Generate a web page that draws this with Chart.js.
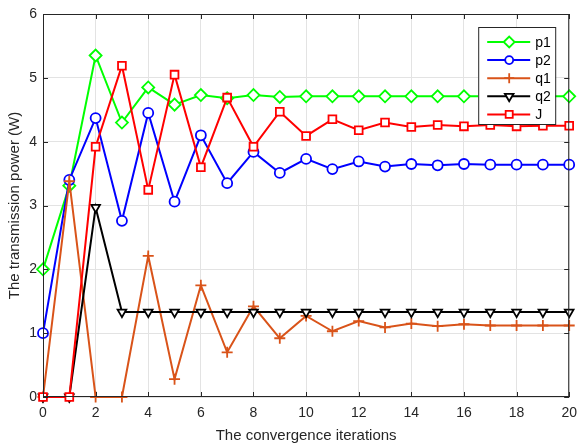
<!DOCTYPE html>
<html>
<head>
<meta charset="utf-8">
<script src="https://cdn.jsdelivr.net/npm/chart.js@4/dist/chart.umd.min.js"></script>
<style>
html,body{margin:0;padding:0;background:#fff;}
#wrap{width:577px;height:445px;}
</style>
</head>
<body>
<div id="wrap"><canvas id="c" width="577" height="445"></canvas></div>
<script>
const iterations = [0,1,2,3,4,5,6,7,8,9,10,11,12,13,14,15,16,17,18,19,20];
const p1 = [2.0,3.31,5.35,4.30,4.85,4.58,4.73,4.68,4.73,4.70,4.71,4.71,4.71,4.71,4.71,4.71,4.71,4.71,4.71,4.71,4.71];
const p2 = [1.0,3.40,4.37,2.76,4.45,3.06,4.10,3.35,3.84,3.51,3.73,3.57,3.69,3.61,3.65,3.63,3.65,3.64,3.64,3.64,3.64];
const q1 = [0,3.38,0,0,2.21,0.28,1.75,0.70,1.42,0.92,1.27,1.03,1.19,1.09,1.15,1.11,1.14,1.12,1.12,1.12,1.12];
const q2 = [0,0,2.97,1.33,1.33,1.33,1.33,1.33,1.33,1.33,1.33,1.33,1.33,1.33,1.33,1.33,1.33,1.33,1.33,1.33,1.33];
const J  = [0,0,3.92,5.19,3.245,5.05,3.60,4.69,3.92,4.47,4.09,4.35,4.18,4.30,4.23,4.26,4.24,4.26,4.24,4.25,4.25];
const seriesNames = ['p1','p2','q1','q2','J'];
const xTicks = [0,2,4,6,8,10,12,14,16,18,20];
const yTicks = [0,1,2,3,4,5,6];

const FONT = "'Liberation Sans', Arial, sans-serif";
const AXIS = '#262626';

function pts(arr){ return arr.map((v,i)=>({x:iterations[i], y:v})); }

const styles = [
  {color:'#00ff00', pointStyle:'rectRot', radius:6, legendRadius:5.5, rotation:0},
  {color:'#0000ff', pointStyle:'circle', radius:5, legendRadius:4, rotation:0},
  {color:'#d95319', pointStyle:'cross', radius:5.5, legendRadius:5, rotation:0},
  {color:'#000000', pointStyle:'triangle', radius:5, legendRadius:5, rotation:180},
  {color:'#ff0000', pointStyle:'rect', radius:5.5, legendRadius:5, rotation:0}
];
const values = [p1,p2,q1,q2,J];

const datasets = values.map((arr,i)=>({
  label: seriesNames[i],
  data: pts(arr),
  borderColor: styles[i].color,
  backgroundColor: '#ffffff',
  pointBorderColor: styles[i].color,
  pointBackgroundColor: '#ffffff',
  pointStyle: styles[i].pointStyle,
  pointRadius: styles[i].radius,
  pointRotation: styles[i].rotation,
  pointBorderWidth: 1.8,
  borderWidth: 2,
  tension: 0,
  fill: false,
  clip: false,
  order: 5 - i,
  legendRadius: styles[i].legendRadius
}));

const boxPlugin = {
  id: 'matlabBox',
  afterDraw(chart){
    const {ctx, chartArea:a, scales} = chart;
    ctx.save();
    ctx.strokeStyle = AXIS;
    ctx.lineWidth = 1;
    ctx.strokeRect(a.left+0.5, a.top+0.5, a.right-a.left-1, a.bottom-a.top-1);
    const tl = 5;
    ctx.beginPath();
    xTicks.forEach(t=>{
      const x = Math.round(scales.x.getPixelForValue(t))+0.5;
      ctx.moveTo(x,a.bottom); ctx.lineTo(x,a.bottom-tl);
      ctx.moveTo(x,a.top); ctx.lineTo(x,a.top+tl);
    });
    yTicks.forEach(t=>{
      const y = Math.round(scales.y.getPixelForValue(t))+0.5;
      ctx.moveTo(a.left,y); ctx.lineTo(a.left+tl,y);
      ctx.moveTo(a.right,y); ctx.lineTo(a.right-tl,y);
    });
    ctx.stroke();

    // legend
    const w = 77, h = 97;
    const lx = a.right - 14 - w, ly = a.top + 13;
    ctx.fillStyle = '#ffffff';
    ctx.fillRect(lx, ly, w, h);
    ctx.strokeStyle = AXIS;
    ctx.strokeRect(lx+0.5, ly+0.5, w, h);
    chart.data.datasets.forEach((ds,i)=>{
      const y = ly + 15 + i*18.1;
      ctx.strokeStyle = ds.borderColor;
      ctx.lineWidth = 2;
      ctx.beginPath();
      ctx.moveTo(lx+9, y); ctx.lineTo(lx+52, y);
      ctx.stroke();
      ctx.fillStyle = '#ffffff';
      ctx.strokeStyle = ds.pointBorderColor;
      ctx.lineWidth = 1.8;
      Chart.helpers.drawPoint(ctx, {pointStyle: ds.pointStyle, radius: ds.legendRadius, rotation: ds.pointRotation, borderWidth: 1.8}, lx+31, y);
      ctx.fillStyle = '#000000';
      ctx.font = '14px ' + FONT;
      ctx.textBaseline = 'middle';
      ctx.textAlign = 'left';
      ctx.fillText(ds.label, lx+57, y+1);
    });
    ctx.restore();
  }
};

new Chart(document.getElementById('c'), {
  type: 'line',
  data: { datasets },
  options: {
    responsive: false,
    animation: false,
    devicePixelRatio: 1,
    layout: { padding: { left: 0, right: 7, top: 14, bottom: 0 } },
    plugins: { legend: { display: false }, tooltip: { enabled: false } },
    scales: {
      x: {
        type: 'linear', min: 0, max: 20,
        afterBuildTicks(s){ s.ticks = xTicks.map(v=>({value:v})); },
        afterFit(s){ s.height = 48; s.paddingRight = 0; s.paddingLeft = 0; },
        grid: { color: '#e3e3e3', drawTicks: false },
        border: { display: false },
        ticks: { color: AXIS, font: { family: FONT, size: 14 }, padding: 8, maxRotation: 0 },
        title: { display: true, text: 'The convergence iterations', color: AXIS, font: { family: FONT, size: 15 }, padding: { top: 0, bottom: 0 } }
      },
      y: {
        type: 'linear', min: 0, max: 6,
        afterBuildTicks(s){ s.ticks = yTicks.map(v=>({value:v})); },
        afterFit(s){ s.width = 43; s.paddingTop = 0; s.paddingBottom = 0; },
        grid: { color: '#e3e3e3', drawTicks: false },
        border: { display: false },
        ticks: { color: AXIS, font: { family: FONT, size: 14 }, padding: 6 },
        title: { display: true, text: 'The transmission power (W)', color: AXIS, font: { family: FONT, size: 15 }, padding: { top: 6, bottom: 0 } }
      }
    }
  },
  plugins: [boxPlugin]
});
</script>
</body>
</html>
